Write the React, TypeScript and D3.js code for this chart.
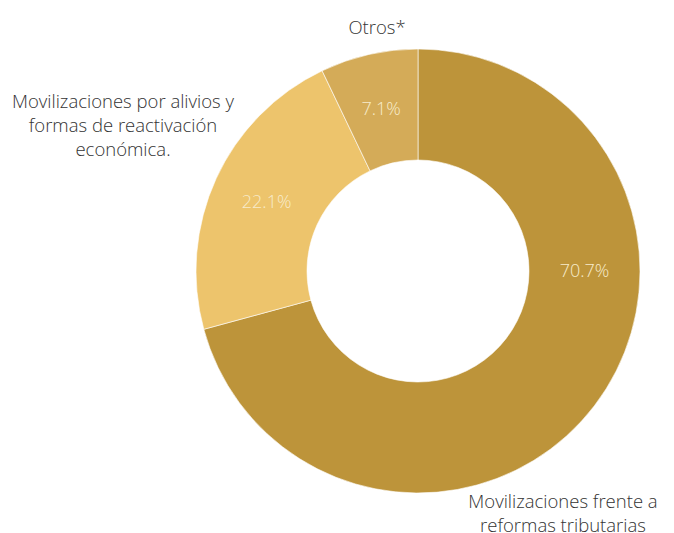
import React from "react";
import * as d3 from "d3";

const categories = [
  "Movilizaciones frente a reformas tributarias",
  "Movilizaciones por alivios y formas de reactivación económica.",
  "Otros*",
];
const values = [70.7, 22.1, 7.1];
const valueLabels = ["70.7%", "22.1%", "7.1%"];
const colors = ["#BD943A", "#EDC46C", "#D4AB58"];

const W = 674;
const H = 533;
const cx = 418;
const cy = 271;
const outerR = 222;
const innerR = 111;

export default function App() {
  const pie = d3.pie<number>().sort(null).value((d) => d)(values);
  const arc = d3.arc<d3.PieArcDatum<number>>().innerRadius(innerR).outerRadius(outerR);
  const midR = (innerR + outerR) / 2;
  const labelPos = (i: number) => {
    const p = pie[i];
    const a = i === 0 ? Math.PI / 2 : (p.startAngle + p.endAngle) / 2;
    return [midR * Math.sin(a), -midR * Math.cos(a)];
  };
  const font = "'Open Sans', sans-serif";
  return (
    <svg width={W} height={H} style={{ position: "absolute", left: 0, top: 0 }}>
      <rect width={W} height={H} fill="#fff" />
      <g transform={`translate(${cx},${cy})`}>
        {pie.map((p, i) => (
          <path key={i} d={arc(p) || ""} fill={colors[i]} stroke="#fff" strokeWidth={0.6} />
        ))}
        {pie.map((p, i) => {
          const [x, y] = labelPos(i);
          return (
            <text key={i} x={x} y={y} dy="0.35em" textAnchor="middle" fontFamily={font} fontWeight={300} fontSize={18} fill="#F7EBCB">
              {valueLabels[i]}
            </text>
          );
        })}
      </g>
      <g fontFamily={font} fontWeight={300} fontSize={18.5} fill="#333" textAnchor="middle">
        <text x={377} y={34}>{categories[2]}</text>
        <text x={123} y={108}>
          <tspan x={123}>Movilizaciones por alivios y</tspan>
          <tspan x={123} dy={24}>formas de reactivación</tspan>
          <tspan x={123} dy={24}>económica.</tspan>
        </text>
        <text x={563} y={508}>
          <tspan x={563}>Movilizaciones frente a</tspan>
          <tspan x={563} dy={24}>reformas tributarias</tspan>
        </text>
      </g>
    </svg>
  );
}
